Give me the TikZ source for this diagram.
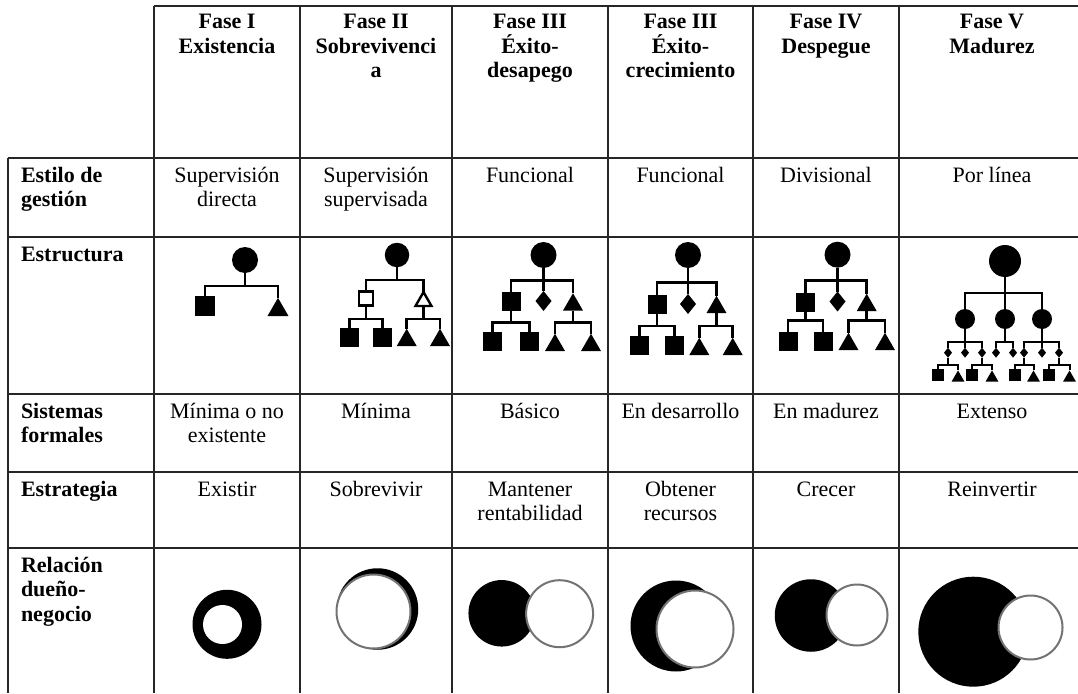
\documentclass[tikz,border=0pt]{standalone}
\usepackage{fontspec}
\setmainfont{Liberation Serif}
\usetikzlibrary{shapes.geometric}
% parent stem down to a bar level, then across and down to one child
\newcommand\orgfork[4][tl]{\draw[#1] (#2.south) -- (#2.south |- #3) -| (#4.north);}
\begin{document}
\begin{tikzpicture}[x=1pt,y=-1pt,
  rule/.style={line width=1.6pt, draw=black!85},
  txt/.style={inner sep=0pt, outer sep=0pt, font=\fontsize{22}{24.5}\selectfont},
  cell/.style={txt, anchor=base, align=flush center, text width=140pt},
  head/.style={cell, font=\fontsize{22}{24.5}\selectfont\bfseries},
  lab/.style={txt, anchor=base west, align=flush left, text width=125pt, font=\fontsize{22}{24.5}\selectfont\bfseries},
  tl/.style={line width=2.6pt, draw=black},
  tlv/.style={line width=2pt, draw=black},
  orgroot/.style={circle, fill=black, inner sep=0pt, outer sep=0pt, minimum size=#1pt},
  sq/.style={rectangle, fill=black, inner sep=0pt, outer sep=0pt, minimum size=#1pt},
  hsq/.style={rectangle, draw=black, fill=white, line width=2.4pt, inner sep=0pt, outer sep=0pt, minimum size=#1pt},
  tri/.style={regular polygon, regular polygon sides=3, fill=black, inner sep=0pt, outer sep=0pt, minimum size=#1pt, anchor=south},
  htri/.style={regular polygon, regular polygon sides=3, draw=black, fill=white, line width=2.4pt, inner sep=0pt, outer sep=0pt, minimum size=#1pt, anchor=south},
  dia/.style={diamond, fill=black, inner sep=0pt, outer sep=0pt, minimum width=16pt, minimum height=20pt},
  sdia/.style={diamond, fill=black, inner sep=0pt, outer sep=0pt, minimum width=8pt, minimum height=10pt},
  disc/.style={circle, fill=black, inner sep=0pt, outer sep=0pt, minimum size=#1pt},
  ring/.style={circle, fill=white, draw=black!55, line width=2pt, inner sep=0pt, outer sep=0pt, minimum size=#1pt},
  hole/.style={circle, fill=white, inner sep=0pt, outer sep=0pt, minimum size=#1pt},
]
\useasboundingbox (0,0) rectangle (1078,693);
\fill[white] (0,0) rectangle (1078,693);

% table rules
\draw[rule] (154,6) -- (1078,6);
\foreach \y in {158,237,394,472,548} \draw[rule] (8,\y) -- (1078,\y);
\draw[rule] (8,158) -- (8,693);
\foreach \x in {154,300,452,608,753,899} \draw[rule] (\x,6) -- (\x,693);

% header row
\node[head] (h1) at (227,29) {Fase I\\Existencia};
\node[head] (h2) at (376,29) {Fase II\\Sobrevivenci\\a};
\node[head] (h3) at (530,29) {Fase III\\Éxito-\\desapego};
\node[head] (h4) at (680.5,29) {Fase III\\Éxito-\\crecimiento};
\node[head] (h5) at (826,29) {Fase IV\\Despegue};
\node[head] (h6) at (992,29) {Fase V\\Madurez};

% row labels
\node[lab] (l1) at (21,182) {Estilo de\\gestión};
\node[lab] (l2) at (21,261) {Estructura};
\node[lab] (l3) at (21,418) {Sistemas\\formales};
\node[lab] (l4) at (21,496) {Estrategia};
\node[lab] (l5) at (21,572) {Relación\\dueño-\\negocio};

% management style
\node[cell] (e1) at (227,182) {Supervisión\\directa};
\node[cell] (e2) at (376,182) {Supervisión\\supervisada};
\node[cell] (e3) at (530,182) {Funcional};
\node[cell] (e4) at (680.5,182) {Funcional};
\node[cell] (e5) at (826,182) {Divisional};
\node[cell] (e6) at (992,182) {Por línea};

% formal systems
\node[cell] (s1) at (227,418) {Mínima o no\\existente};
\node[cell] (s2) at (376,418) {Mínima};
\node[cell] (s3) at (530,418) {Básico};
\node[cell] (s4) at (680.5,418) {En desarrollo};
\node[cell] (s5) at (826,418) {En madurez};
\node[cell] (s6) at (992,418) {Extenso};

% strategy
\node[cell] (g1) at (227,496) {Existir};
\node[cell] (g2) at (376,496) {Sobrevivir};
\node[cell] (g3) at (530,496) {Mantener\\rentabilidad};
\node[cell] (g4) at (680.5,496) {Obtener\\recursos};
\node[cell] (g5) at (826,496) {Crecer};
\node[cell] (g6) at (992,496) {Reinvertir};

% ---- structure: phase I
\coordinate (y1) at (0,286);
\node[orgroot=26] (r1) at (245,260) {};
\node[sq=20] (r1a) at (205,306) {};
\node[tri=24.2] (r1b) at (278,316) {};
\orgfork{r1}{y1}{r1a}
\orgfork{r1}{y1}{r1b}

% ---- structure: phase II
\coordinate (y2) at (0,280);
\coordinate (y2b) at (0,319);
\node[orgroot=24.5] (r2) at (397,255) {};
\node[hsq=14] (r2a) at (366,298.5) {};
\node[htri=18.5] (r2b) at (423.5,306) {};
\node[sq=19] (r2c) at (349.5,337) {};
\node[sq=19] (r2d) at (382.5,337) {};
\node[tri=23] (r2e) at (406.7,346) {};
\node[tri=23] (r2f) at (440,346) {};
\orgfork{r2}{y2}{r2a}
\orgfork{r2}{y2}{r2b}
\orgfork{r2a}{y2b}{r2c}
\orgfork{r2a}{y2b}{r2d}
\orgfork{r2b}{y2b}{r2e}
\orgfork{r2b}{y2b}{r2f}

% ---- structure: phase III (desapego)
\coordinate (y3) at (0,280.7);
\coordinate (y3b) at (0,322.7);
\node[orgroot=26] (r3) at (543.5,255) {};
\node[sq=19] (r3a) at (511,301) {};
\node[dia] (r3b) at (543.5,301) {};
\node[tri=23] (r3c) at (573,310.5) {};
\node[sq=19] (r3d) at (492.5,341.5) {};
\node[sq=19] (r3e) at (529.5,341.5) {};
\node[tri=23] (r3f) at (555,351) {};
\node[tri=23] (r3g) at (591,351) {};
\orgfork{r3}{y3}{r3a}
\orgfork{r3}{y3}{r3b}
\orgfork{r3}{y3}{r3c}
\orgfork{r3a}{y3b}{r3d}
\orgfork{r3a}{y3b}{r3e}
\orgfork{r3c}{y3b}{r3f}
\orgfork{r3c}{y3b}{r3g}

% ---- structure: phase III (crecimiento)
\coordinate (y4) at (0,282.7);
\coordinate (y4b) at (0,326);
\node[orgroot=26] (r4) at (688,255) {};
\node[sq=19] (r4a) at (657,304) {};
\node[dia] (r4b) at (688,304) {};
\node[tri=23] (r4c) at (716.5,313) {};
\node[sq=19] (r4d) at (639.5,345) {};
\node[sq=19] (r4e) at (674.5,345) {};
\node[tri=23] (r4f) at (699.3,355) {};
\node[tri=23] (r4g) at (732.7,355) {};
\orgfork{r4}{y4}{r4a}
\orgfork{r4}{y4}{r4b}
\orgfork{r4}{y4}{r4c}
\orgfork{r4a}{y4b}{r4d}
\orgfork{r4a}{y4b}{r4e}
\orgfork{r4c}{y4b}{r4f}
\orgfork{r4c}{y4b}{r4g}

% ---- structure: phase IV
\coordinate (y5) at (0,280.7);
\coordinate (y5b) at (0,320.7);
\node[orgroot=26] (r5) at (837.5,254.7) {};
\node[sq=19] (r5a) at (805.5,302) {};
\node[dia] (r5b) at (837.5,301.5) {};
\node[tri=23] (r5c) at (866.7,311) {};
\node[sq=19] (r5d) at (788,341) {};
\node[sq=19] (r5e) at (823,341) {};
\node[tri=23] (r5f) at (848.5,350) {};
\node[tri=23] (r5g) at (885,350) {};
\orgfork{r5}{y5}{r5a}
\orgfork{r5}{y5}{r5b}
\orgfork{r5}{y5}{r5c}
\orgfork{r5a}{y5b}{r5d}
\orgfork{r5a}{y5b}{r5e}
\orgfork{r5c}{y5b}{r5f}
\orgfork{r5c}{y5b}{r5g}

% ---- structure: phase V
\coordinate (y6) at (0,292.7);
\coordinate (y6b) at (0,341.7);
\coordinate (y6c) at (0,365);
\node[orgroot=32] (r6) at (1005,261) {};
\node[orgroot=20] (m1) at (965,319) {};
\node[orgroot=20] (m2) at (1005,319) {};
\node[orgroot=20] (m3) at (1042,319) {};
\node[sdia] (d1) at (948,352.7) {};
\node[sdia] (d2) at (965,352.7) {};
\node[sdia] (d3) at (982,352.7) {};
\node[sdia] (d4) at (996,352.7) {};
\node[sdia] (d5) at (1013,352.7) {};
\node[sdia] (d6) at (1024,352.7) {};
\node[sdia] (d7) at (1042,352.7) {};
\node[sdia] (d8) at (1059,352.7) {};
\node[sq=12] (b1) at (938,375) {};
\node[tri=15] (b2) at (958,381.7) {};
\node[sq=12] (b3) at (972,375) {};
\node[tri=15] (b4) at (992,381.7) {};
\node[sq=12] (b5) at (1014.5,375) {};
\node[tri=15] (b6) at (1033.5,381.7) {};
\node[sq=12] (b7) at (1048.5,375) {};
\node[tri=15] (b8) at (1069.5,381.7) {};
\orgfork[tlv]{r6}{y6}{m1}
\orgfork[tlv]{r6}{y6}{m2}
\orgfork[tlv]{r6}{y6}{m3}
\orgfork[tlv]{m1}{y6b}{d1}
\orgfork[tlv]{m1}{y6b}{d2}
\orgfork[tlv]{m1}{y6b}{d3}
\orgfork[tlv]{m2}{y6b}{d4}
\orgfork[tlv]{m2}{y6b}{d5}
\orgfork[tlv]{m3}{y6b}{d6}
\orgfork[tlv]{m3}{y6b}{d7}
\orgfork[tlv]{m3}{y6b}{d8}
\orgfork[tlv]{d1}{y6c}{b1}
\orgfork[tlv]{d1}{y6c}{b2}
\orgfork[tlv]{d3}{y6c}{b3}
\orgfork[tlv]{d3}{y6c}{b4}
\orgfork[tlv]{d6}{y6c}{b5}
\orgfork[tlv]{d6}{y6c}{b6}
\orgfork[tlv]{d8}{y6c}{b7}
\orgfork[tlv]{d8}{y6c}{b8}

% ---- owner / business relation
\node[disc=69] (o1) at (227,624.3) {};
\node[hole=39] (i1) at (222.5,624.5) {};
\node[disc=81.5] (o2) at (377.5,609) {};
\node[ring=74] (i2) at (373.5,611.5) {};
\node[disc=66.5] (o3) at (501.7,613.3) {};
\node[ring=67] (i3) at (559.6,613.7) {};
\node[disc=91] (o4) at (676,626) {};
\node[ring=77] (i4) at (695,629) {};
\node[disc=72.5] (o5) at (811,615.5) {};
\node[ring=61] (i5) at (857,615) {};
\node[disc=110] (o6) at (973.3,631.7) {};
\node[ring=64] (i6) at (1030.5,627.5) {};
\end{tikzpicture}
\end{document}
